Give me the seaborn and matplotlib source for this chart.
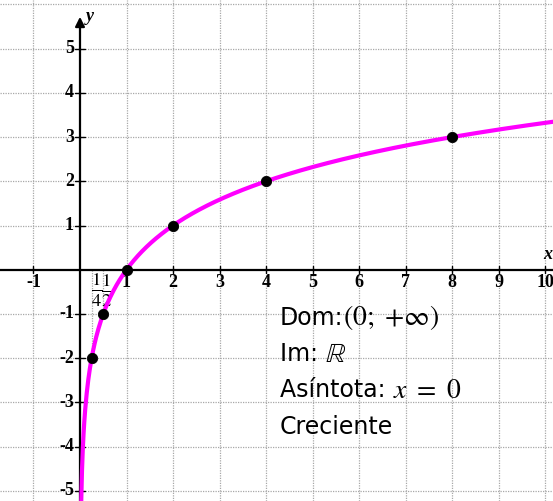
import numpy as np
import pandas as pd
import matplotlib.pyplot as plt
import seaborn as sns

# marked points of y = log2(x)
pt_x = [0.25, 0.5, 1, 2, 4, 8]
pt_y = [-2, -1, 0, 1, 2, 3]
x_ticks = [-1, 1, 2, 3, 4, 5, 6, 7, 8, 9, 10]
y_ticks = [-5, -4, -3, -2, -1, 1, 2, 3, 4, 5]
info_plain = ['Dom:', 'Im: ', 'Asíntota: ', 'Creciente']
info_math = [r'$(0;\ {+}\infty)$', r'$\mathbb{R}$', r'$x\ =\ 0$', '']

sns.set_style('white')
plt.rcParams['mathtext.fontset'] = 'stix'
plt.rcParams['font.family'] = ['DejaVu Sans']
plt.rcParams['text.color'] = 'black'

fig = plt.figure(figsize=(5.53, 5.01), dpi=100)
ax = fig.add_axes([0, 0, 1, 1])
xmin, xmax = -1.72, 10.17
ymin, ymax = -5.23, 6.1
ax.set_xlim(xmin, xmax)
ax.set_ylim(ymin, ymax)
for s in ax.spines.values():
    s.set_visible(False)
ax.set_xticks([])
ax.set_yticks([])

# grid
grid_kw = dict(color='#a8a8a8', lw=0.9, ls=(0, (1, 1)), zorder=0)
for gx in range(-1, 11):
    if gx != 0:
        ax.axvline(gx, **grid_kw)
for gy in range(-5, 7):
    if gy != 0:
        ax.axhline(gy, **grid_kw)

# axes with arrows
ax.annotate('', xy=(0, 5.72), xytext=(0, ymin), zorder=3,
            arrowprops=dict(arrowstyle='-|>', color='black', lw=1.6,
                            mutation_scale=14, shrinkA=0, shrinkB=0))
ax.plot([xmin, xmax], [0, 0], color='black', lw=1.6, zorder=3)
ax.text(0.22, 5.72, 'y', family='Liberation Serif', style='italic',
        weight='bold', fontsize=13, ha='center', va='center')
ax.text(10.06, 0.35, 'x', family='Liberation Serif', style='italic',
        weight='bold', fontsize=13, ha='center', va='center')

# ticks and labels
tick_font = dict(family='Liberation Serif', weight='bold', fontsize=13)
for t in x_ticks:
    ax.plot([t, t], [-0.08, 0.08], color='black', lw=1, zorder=3)
    ax.text(t, -0.1, str(t), ha='center', va='top', **tick_font)
for t in y_ticks:
    ax.plot([-0.1, 0.1], [t, t], color='black', lw=1, zorder=3)
    ax.text(-0.13, t, str(t), ha='right', va='center', **tick_font)
ax.text(0.35, -0.47, r'$\frac{1}{4}$', ha='center', va='center', fontsize=19)
ax.text(0.58, -0.47, r'$\frac{1}{2}$', ha='center', va='center', fontsize=19)

# guide lines to the fractional points
for px, py in zip(pt_x[:2], pt_y[:2]):
    ax.plot([px, px], [0, py], **grid_kw)

# curve
curve_x = np.linspace(0.026, xmax, 600)
curve = pd.DataFrame({'x': curve_x, 'y': np.log2(curve_x)})
sns.lineplot(data=curve, x='x', y='y', color='#ff00ff', lw=3, ax=ax,
             zorder=4, sort=False)
pts = pd.DataFrame({'x': pt_x, 'y': pt_y})
sns.scatterplot(data=pts, x='x', y='y', color='black', s=55,
                edgecolor='black', ax=ax, zorder=5)
ax.set_xlabel('')
ax.set_ylabel('')

# info text
for i, (plain, math) in enumerate(zip(info_plain, info_math)):
    t = ax.text(4.3, -1.09 - 0.82 * i, plain, fontsize=17, ha='left',
                va='center', zorder=6)
    if math:
        ax.annotate(math, xy=(1, 0.5), xycoords=t, ha='left', va='center',
                    fontsize=20, zorder=6)

fig.savefig('out.png', dpi=100)
